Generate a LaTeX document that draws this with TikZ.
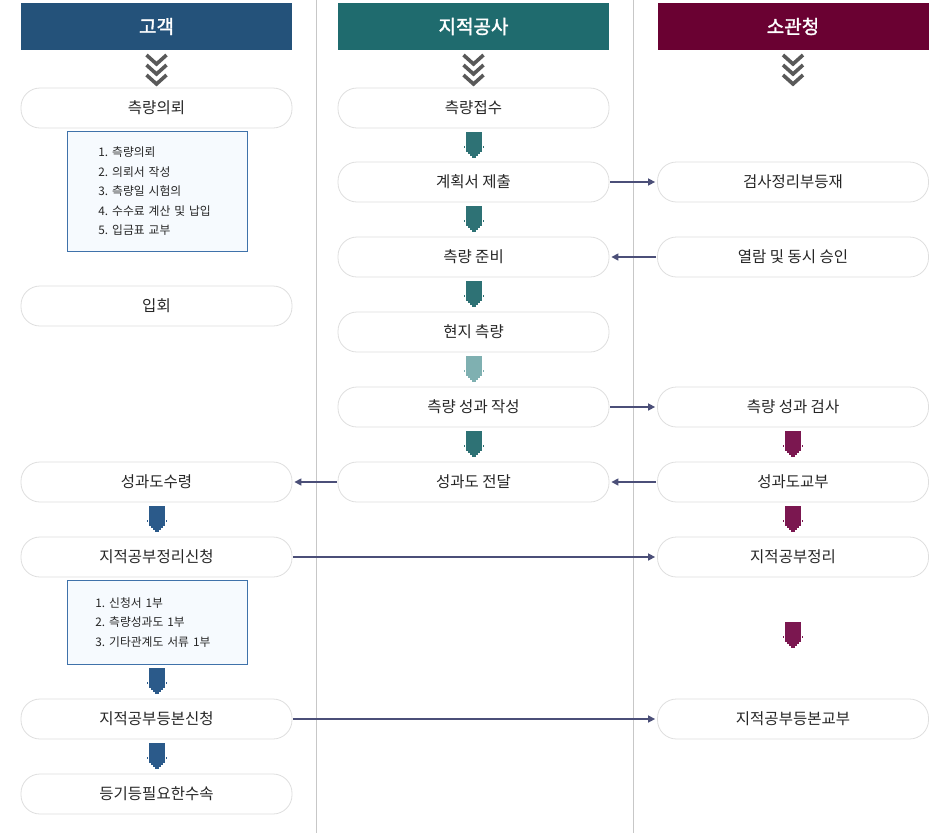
\documentclass[tikz,border=0pt]{standalone}
\usepackage{fontspec}
\setmainfont{Noto Sans CJK KR}
\newfontfamily\headfont{Noto Sans CJK KR}[FakeBold=1.6]
\usetikzlibrary{positioning,arrows.meta}

\definecolor{custblue}{HTML}{24527A}
\definecolor{kcscteal}{HTML}{1F6B6E}
\definecolor{officered}{HTML}{6A0132}
\definecolor{dotblue}{HTML}{2B5A8A}
\definecolor{dotteal}{HTML}{2E7275}
\definecolor{dottealpale}{HTML}{7FB0B1}
\definecolor{dotred}{HTML}{7B1750}
\definecolor{flowline}{HTML}{4B4F78}
\definecolor{notefill}{HTML}{F6FAFE}
\definecolor{noteline}{HTML}{3F72AA}

% dotted down arrow between steps (#1 = left edge, #2 = top)
\newcommand{\dotarrow}[3]{%
  \begin{scope}[shift={(#1,#2)}]
    \fill[#3!12] (0,0) rectangle (16,20);
    \foreach \i in {0,...,7}{\foreach \j in {0,...,9}{\dotcell{\i}{\j}{#3}}}
    \dotcell{-1.25}{7}{#3}\dotcell{8.25}{7}{#3}
    \foreach \i in {1,...,6}{\dotcell{\i}{10}{#3}}
    \foreach \i in {2,...,5}{\dotcell{\i}{11}{#3}}
    \foreach \i in {3,4}{\dotcell{\i}{12}{#3}}
  \end{scope}}
\newcommand{\dotcell}[3]{%
  \fill[#3] ({#1*2+0.3},{#2*2+0.3}) rectangle ++(1.4,1.4);}

\begin{document}
\frenchspacing
\begin{tikzpicture}[x=1pt,y=-1pt,
  header/.style={minimum width=271pt, minimum height=47pt, inner sep=0pt,
    text=white, font=\headfont\fontsize{19}{22}\selectfont},
  stepbox/.style={draw=black!13, line width=0.8pt, rounded corners=19pt,
    minimum width=271pt, minimum height=40pt, inner sep=0pt,
    font=\fontsize{15.5}{18}\selectfont, text=black!85},
  notebox/.style={draw=noteline, fill=notefill, line width=0.8pt, anchor=north west,
    text width=140pt, inner xsep=20pt, inner ysep=0pt, align=left,
    font=\fontsize{11.8}{19.5}\selectfont, text=black!85},
  flow/.style={draw=flowline, line width=1.5pt, shorten >=2pt, shorten <=1pt,
    -{Triangle[length=7pt,width=7pt]}},
  chev/.style={draw=black!65, line width=3.6pt, miter limit=10}]
\useasboundingbox (0,0) rectangle (950,833);

% column dividers
\draw[black!22, line width=0.8pt] (316.5,0) -- (316.5,833);
\draw[black!22, line width=0.8pt] (633,0) -- (633,833);

% headers
\node[header, fill=custblue] (hcust) at (156.5,26.5) {고객};
\node[header, fill=kcscteal] (hkcsc) at (473.5,26.5) {지적공사};
\node[header, fill=officered] (hoffice) at (793,26.5) {소관청};

\foreach \cx in {156.5,473.5,793}{
  \foreach \cy in {55,65,75}
    \draw[chev] (\cx-10,\cy) -- (\cx,\cy+9) -- (\cx+10,\cy);
}

% customer column
\node[stepbox] (request) at (156.5,108) {측량의뢰};
\node[notebox, minimum height=120pt] (note1) at (67,131)
  {\hspace*{11pt}1. 측량의뢰\\\hspace*{11pt}2. 의뢰서 작성\\\hspace*{11pt}3. 측량일 시험의\\\hspace*{11pt}4. 수수료 계산 및 납입\\\hspace*{11pt}5. 입금표 교부};
\node[stepbox] (attend) at (156.5,306) {입회};
\node[stepbox] (receive) at (156.5,482) {성과도수령};
\node[stepbox] (apply) at (156.5,557) {지적공부정리신청};
\node[notebox, minimum height=84pt] (note2) at (67,580)
  {\hspace*{8pt}1. 신청서 1부\\\hspace*{8pt}2. 측량성과도 1부\\\hspace*{8pt}3. 기타관계도 서류 1부};
\node[stepbox] (copyreq) at (156.5,719) {지적공부등본신청};
\node[stepbox] (register) at (156.5,794) {등기등필요한수속};

% kcsc column
\node[stepbox] (accept) at (473.5,108) {측량접수};
\node[stepbox] (plan) at (473.5,182) {계획서 제출};
\node[stepbox] (prepare) at (473.5,257) {측량 준비};
\node[stepbox] (field) at (473.5,332) {현지 측량};
\node[stepbox] (result) at (473.5,407) {측량 성과 작성};
\node[stepbox] (deliver) at (473.5,482) {성과도 전달};

% office column
\node[stepbox] (ledger) at (793,182) {검사정리부등재};
\node[stepbox] (approve) at (793,257) {열람 및 동시 승인};
\node[stepbox] (inspect) at (793,407) {측량 성과 검사};
\node[stepbox] (issue) at (793,482) {성과도교부};
\node[stepbox] (update) at (793,557) {지적공부정리};
\node[stepbox] (copyout) at (793,719) {지적공부등본교부};

% step arrows
\dotarrow{466}{132}{dotteal}
\dotarrow{466}{206}{dotteal}
\dotarrow{466}{281}{dotteal}
\dotarrow{466}{356}{dottealpale}
\dotarrow{466}{431}{dotteal}
\dotarrow{785}{431}{dotred}
\dotarrow{785}{506}{dotred}
\dotarrow{785}{622}{dotred}
\dotarrow{149}{506}{dotblue}
\dotarrow{149}{668}{dotblue}
\dotarrow{149}{743}{dotblue}

% hand-overs
\draw[flow] (plan) -- (ledger);
\draw[flow] (approve) -- (prepare);
\draw[flow] (result) -- (inspect);
\draw[flow] (deliver) -- (receive);
\draw[flow] (issue) -- (deliver);
\draw[flow] (apply) -- (update);
\draw[flow] (copyreq) -- (copyout);
\end{tikzpicture}
\end{document}
